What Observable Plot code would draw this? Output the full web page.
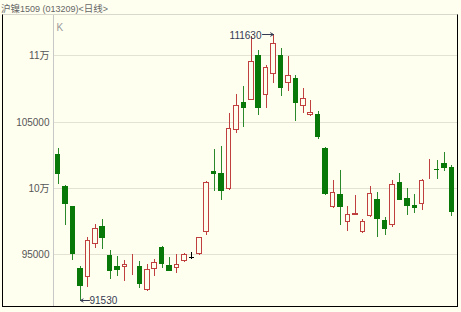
<!DOCTYPE html>
<html><head><meta charset="utf-8">
<script src="https://cdn.jsdelivr.net/npm/d3@7"></script>
<script src="https://cdn.jsdelivr.net/npm/@observablehq/plot@0.6"></script>
<style>
html,body{margin:0;padding:0;background:#fff;}
#wrap{position:relative;width:461px;height:312px;background:#fffff0;overflow:hidden;}
#chart{position:absolute;left:0;top:0;}
#title{position:absolute;left:1px;top:2px;color:#666;white-space:nowrap;line-height:12px;font-size:9px;font-family:"Liberation Sans",Arial,sans-serif;}
#title .c{font-family:"Noto Sans CJK SC",sans-serif;font-size:9.5px;}
#box{position:absolute;left:2px;top:14px;width:454px;height:291px;border-top:1px solid #d8d8cc;border-left:1px solid #000;border-right:1px solid #000;border-bottom:1px solid #000;pointer-events:none;}
</style></head><body>
<div id="wrap"><div id="chart"></div><div id="title"></div><div id="box"></div></div>
<script>
const titleParts = [["c","沪镍"],["a","1509 (013209)<"],["c","日线"],["a",">"]];
const opens  = [102587,100144,98590,93938,93236,95748,97082,94918,94111,94035,94560,94111,92301,93862,95544,94164,93915,94442,94767,94971,96630,101275,101154,99895,104367,106508,106629,110000,106984,108567,110000,107941,108318,106177,105475,105604,103040,98515,99571,97384,97960,96630,97836,99193,97557,97180,100446,99268,98710,98764,100940,101420,101909,101607];
const highs  = [103040,100200,98650,94111,96253,97256,97633,95295,94820,94564,94993,94466,94239,94616,95600,94790,94993,95100,95165,96300,100480,102964,103160,105679,107059,107685,111450,110452,109300,111630,110581,109950,108490,107564,106607,105800,103100,100574,101328,98636,99443,97680,100144,99722,97800,100574,101154,99970,99571,100650,102157,102100,102682,101700];
const lows   = [100325,97180,94564,91530,92482,95423,95370,93108,93357,92980,93410,92407,92230,93357,93938,93700,93560,94400,94616,94915,96426,99767,99088,99850,104118,104593,106600,105475,106056,107889,106931,107308,105046,105679,105450,103720,99450,98500,97203,96750,97930,96600,97800,96253,96426,97007,99050,97984,98085,98334,100670,100700,101275,97840];
const closes = [101026,98764,94993,92603,96072,96931,96177,93734,93787,94239,94640,92754,93862,94413,94239,93734,94239,94993,94767,96253,100446,101026,99767,104495,106230,106003,109570,106056,109148,110958,107564,108492,106433,106757,105754,103839,99518,99722,98515,98010,98085,97504,99593,97633,96879,100325,99088,98590,98440,100597,101000,101380,101534,98138];
const yTicks = [95000, 100000, 105000, 110000];
const yTickLabels = ["95000", "10万", "105000", "11万"];
const panelLabel = "K";

document.getElementById("title").innerHTML = titleParts.map(([k,t]) => `<span class="${k}">${t.replace(/</g,"&lt;").replace(/>/g,"&gt;")}</span>`).join("");

const RED = "#c04040", GREEN = "#087808", GWICK = "#2a882a", BG = "#fffff0", NOTE = "#343a52";
const data = opens.map((o, i) => ({i, open: o, high: highs[i], low: lows[i], close: closes[i]}));
const up = data.filter(d => d.close > d.open);
const down = data.filter(d => d.close < d.open);
const flat = data.filter(d => d.close === d.open);
const hi = d3.greatest(data, d => d.high);
const lo = d3.least(data, d => d.low);
const hw = 0.37;

const chart = Plot.plot({
  width: 461, height: 312,
  marginLeft: 53, marginRight: 4, marginTop: 14, marginBottom: 6,
  style: {background: "transparent", color: "#555", fontSize: "10px", fontFamily: "'Liberation Sans', Arial, 'Noto Sans CJK SC', sans-serif"},
  x: {domain: [-0.62, 53.75], axis: null, round: true},
  y: {domain: [91070, 113136], ticks: yTicks, tickFormat: v => yTickLabels[yTicks.indexOf(v)], tickSize: 0, tickPadding: 4, label: null, round: true},
  color: {type: "identity"},
  marks: [
    Plot.ruleY(yTicks, {stroke: "#e4e2d2"}),
    Plot.frame({stroke: "#c8c8c8"}),
    Plot.ruleX(data, {x: "i", y1: "low", y2: "high", stroke: d => d.close > d.open ? RED : d.close < d.open ? GWICK : "#000"}),
    Plot.rect(up, {x1: d => d.i - hw, x2: d => d.i + hw, y1: "open", y2: "close", fill: BG, stroke: RED, inset: 0.5}),
    Plot.rect(down, {x1: d => d.i - hw, x2: d => d.i + hw, y1: "open", y2: "close", fill: GREEN}),
    Plot.ruleY(flat, {y: "open", x1: d => d.i - hw, x2: d => d.i + hw, stroke: "#000"}),
    // max annotation: "111630 —→"
    Plot.arrow([hi], {x1: d => d.i - 1.45, x2: "i", y1: "high", y2: "high", stroke: NOTE, strokeWidth: 1, headLength: 5, bend: false}),
    Plot.text([hi], {x: d => d.i - 1.45, y: "high", text: d => String(d.high), textAnchor: "end", dx: -1, dy: 1, fill: NOTE}),
    // min annotation: "←91530"
    Plot.arrow([lo], {x1: d => d.i + 1.25, x2: "i", y1: "low", y2: "low", stroke: NOTE, strokeWidth: 1, headLength: 5, bend: false}),
    Plot.text([lo], {x: d => d.i + 1.25, y: "low", text: d => String(d.low), textAnchor: "start", dx: 0, dy: 0, fill: NOTE}),
    Plot.text([panelLabel], {frameAnchor: "top-left", text: d => d, dx: 3, dy: 9, fill: "#999"})
  ]
});
document.getElementById("chart").appendChild(chart);
</script>
</body></html>
